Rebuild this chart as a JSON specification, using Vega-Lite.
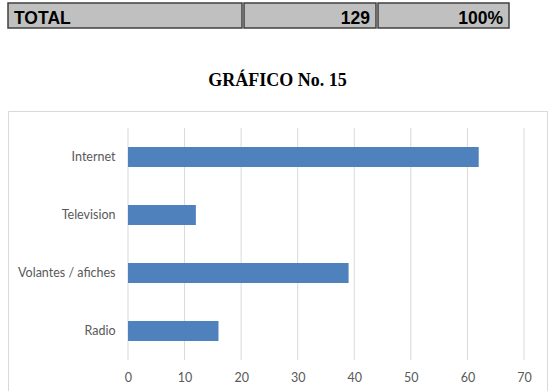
{
  "$schema": "https://vega.github.io/schema/vega-lite/v6.json",
  "padding": {"left": 7, "top": 2, "right": 3, "bottom": 0},
  "background": "white",
  "spacing": 42,
  "datasets": {
    "total": [{"item": "TOTAL", "frecuencia": 129, "porcentaje": 1}],
    "medios": [
      {"medio": "Internet", "frecuencia": 62},
      {"medio": "Television", "frecuencia": 12},
      {"medio": "Volantes / afiches", "frecuencia": 39},
      {"medio": "Radio", "frecuencia": 16}
    ],
    "rejilla": [
      {"valor": 0, "medio": ["Internet", "Television", "Volantes / afiches", "Radio"]},
      {"valor": 10, "medio": ["Internet", "Television", "Volantes / afiches", "Radio"]},
      {"valor": 20, "medio": ["Internet", "Television", "Volantes / afiches", "Radio"]},
      {"valor": 30, "medio": ["Internet", "Television", "Volantes / afiches", "Radio"]},
      {"valor": 40, "medio": ["Internet", "Television", "Volantes / afiches", "Radio"]},
      {"valor": 50, "medio": ["Internet", "Television", "Volantes / afiches", "Radio"]},
      {"valor": 60, "medio": ["Internet", "Television", "Volantes / afiches", "Radio"]},
      {"valor": 70, "medio": ["Internet", "Television", "Volantes / afiches", "Radio"]}
    ]
  },
  "vconcat": [
    {
      "spacing": 0,
      "hconcat": [
        {
          "width": 234, "height": 25,
          "data": {"name": "total"},
          "view": {"fill": "#c0c0c0", "stroke": "#404040", "strokeWidth": 1.5},
          "mark": {"type": "text", "align": "left", "baseline": "alphabetic", "font": "Liberation Sans", "fontWeight": "bold", "fontSize": 17.5, "dx": 6, "dy": -4, "color": "black"},
          "encoding": {"text": {"field": "item"}, "x": {"value": 0}, "y": {"value": "height"}}
        },
        {
          "width": 132, "height": 25,
          "data": {"name": "total"},
          "view": {"fill": "#c0c0c0", "stroke": "#404040", "strokeWidth": 1.5},
          "mark": {"type": "text", "align": "right", "baseline": "alphabetic", "font": "Liberation Sans", "fontWeight": "bold", "fontSize": 17.5, "dx": -6, "dy": -4, "color": "black"},
          "encoding": {"text": {"field": "frecuencia", "type": "quantitative"}, "x": {"value": "width"}, "y": {"value": "height"}}
        },
        {
          "width": 131, "height": 25,
          "data": {"name": "total"},
          "view": {"fill": "#c0c0c0", "stroke": "#404040", "strokeWidth": 1.5},
          "mark": {"type": "text", "align": "right", "baseline": "alphabetic", "font": "Liberation Sans", "fontWeight": "bold", "fontSize": 17.5, "dx": -6, "dy": -4, "color": "black"},
          "encoding": {"text": {"field": "porcentaje", "type": "quantitative", "format": ".0%"}, "x": {"value": "width"}, "y": {"value": "height"}}
        }
      ]
    },
    {
      "width": 539, "height": 290,
      "title": {"text": "GRÁFICO No. 15", "font": "Liberation Serif", "fontSize": 18, "fontWeight": "bold", "color": "black", "anchor": "middle", "baseline": "alphabetic", "offset": 7},
      "view": {"fill": "white", "stroke": "#d9d9d9", "strokeWidth": 1},
      "encoding": {
        "y": {"field": "medio", "type": "nominal", "sort": null, "scale": {"domain": ["Internet", "Television", "Volantes / afiches", "Radio"], "paddingInner": 0, "paddingOuter": 0.5, "align": 0.293}, "axis": {"orient": "left", "offset": -120, "domain": false, "ticks": false, "grid": false, "labelPadding": 13, "labelFont": "Lato", "labelFontSize": 12.5, "labelColor": "#595959", "title": null}}
      },
      "layer": [
        {
          "data": {"name": "rejilla"},
          "transform": [{"flatten": ["medio"]}],
          "mark": {"type": "tick", "orient": "vertical", "size": 58, "thickness": 1, "color": "#d9d9d9", "opacity": 1},
          "encoding": {
            "x": {"field": "valor", "type": "quantitative", "scale": {"domain": [-21.21, 74.07], "nice": false, "zero": false}, "axis": {"values": [0, 10, 20, 30, 40, 50, 60, 70], "grid": false, "domain": false, "ticks": false, "offset": -40, "labelPadding": 10, "labelFont": "Lato", "labelFontSize": 12.5, "labelColor": "#595959", "title": null}}
          }
        },
        {
          "data": {"name": "medios"},
          "mark": {"type": "bar", "size": 20, "color": "#4f81bd"},
          "encoding": {
            "x": {"field": "frecuencia", "type": "quantitative", "scale": {"domain": [-21.21, 74.07], "nice": false, "zero": false}, "axis": {"values": [0, 10, 20, 30, 40, 50, 60, 70], "grid": false, "domain": false, "ticks": false, "offset": -40, "labelPadding": 10, "labelFont": "Lato", "labelFontSize": 12.5, "labelColor": "#595959", "title": null}}
          }
        }
      ]
    }
  ]
}
